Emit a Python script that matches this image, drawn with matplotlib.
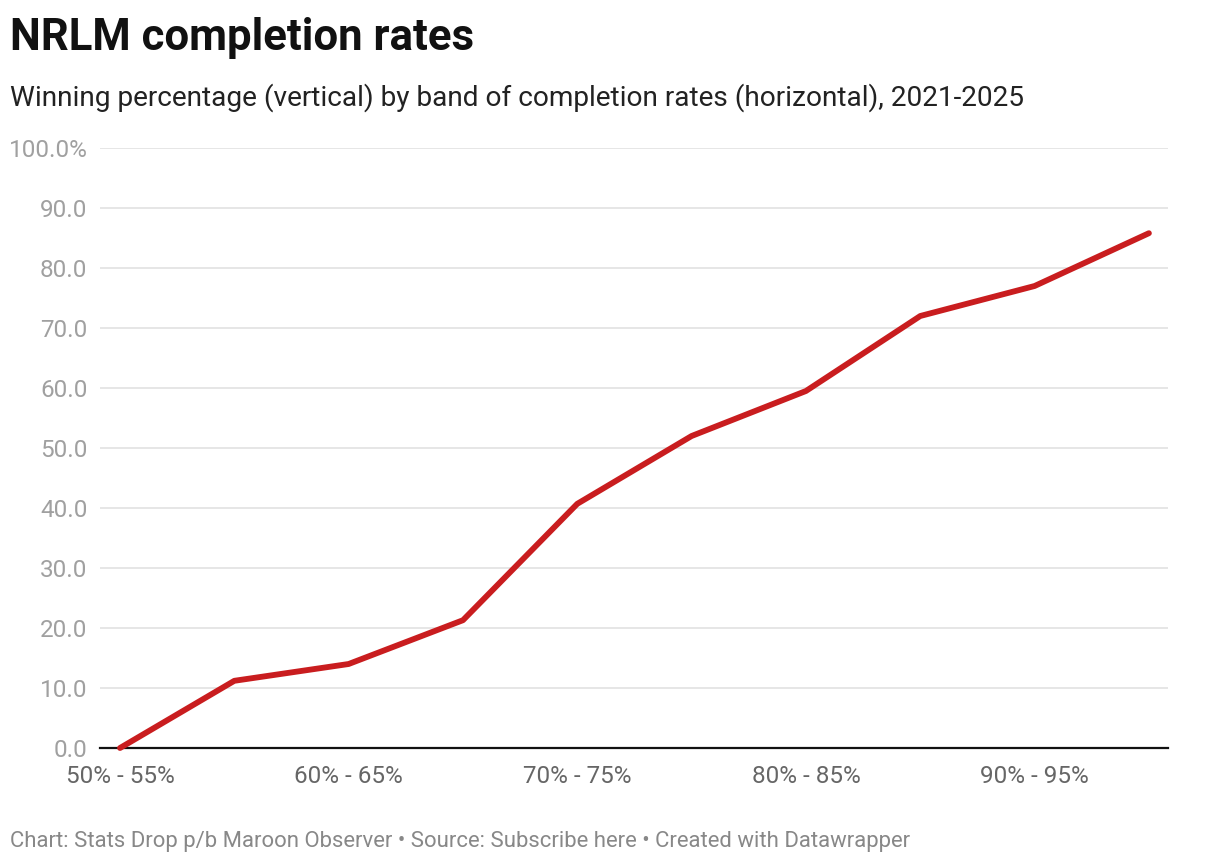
import matplotlib.pyplot as plt
import numpy as np

plt.rcParams['font.family'] = ['Roboto', 'DejaVu Sans']

# completion rate bands and winning percentage
bands = ["50% - 55%", "55% - 60%", "60% - 65%", "65% - 70%", "70% - 75%",
         "75% - 80%", "80% - 85%", "85% - 90%", "90% - 95%", "95% - 100%"]
win_pct = [0.0, 11.2, 14.0, 21.3, 40.7, 52.0, 59.5, 72.0, 77.0, 85.8]
y_ticks = [0, 10, 20, 30, 40, 50, 60, 70, 80, 90, 100]

fig = plt.figure(figsize=(12.2, 8.64), dpi=100)
ax = fig.add_axes([100 / 1220, 1 - 748 / 864, 1068 / 1220, 600 / 864])

x = np.arange(len(bands))
ax.plot(x, win_pct, color='#c91d1f', lw=4.2, solid_capstyle='round',
        solid_joinstyle='round', zorder=3, clip_on=False)

ax.set_xlim(-0.175, len(bands) - 1 + 0.167)
ax.set_ylim(0, 100)
ax.set_yticks(y_ticks)
ax.set_yticklabels([f"{v:.1f}%" if v == 100 else f"{v:.1f}" for v in y_ticks])
ax.set_xticks(x[::2])
ax.set_xticklabels(bands[::2])

ax.grid(axis='y', color='#e2e2e2', lw=1.2)
ax.set_axisbelow(True)
for s in ['top', 'right', 'left']:
    ax.spines[s].set_visible(False)
ax.spines['bottom'].set_color('#111111')
ax.spines['bottom'].set_linewidth(1.6)
ax.tick_params(axis='y', length=0, pad=9, labelsize=17.5, labelcolor='#a0a0a0')
ax.tick_params(axis='x', length=0, pad=12, labelsize=17.5, labelcolor='#666666')

fig.text(10 / 1220, 1 - 38 / 864, "NRLM completion rates", fontsize=31.5,
         fontweight='bold', va='center', ha='left', color='#111111')
fig.text(10 / 1220, 1 - 98 / 864,
         "Winning percentage (vertical) by band of completion rates (horizontal), 2021-2025",
         fontsize=20.2, va='center', ha='left', color='#222222')
fig.text(10 / 1220, 1 - 841 / 864,
         "Chart: Stats Drop p/b Maroon Observer \u2022 Source: Subscribe here \u2022 Created with Datawrapper",
         fontsize=15.9, va='center', ha='left', color='#888888')

plt.savefig("out.png", dpi=100)
plt.close()
